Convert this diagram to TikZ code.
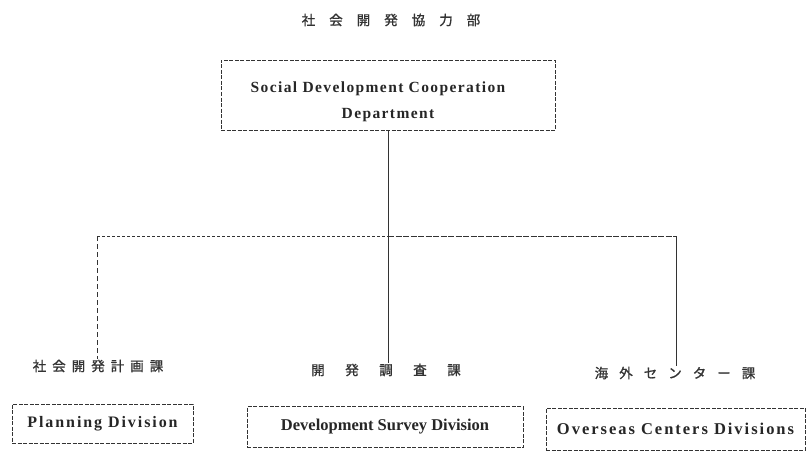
\documentclass[tikz,border=0pt]{standalone}
\usepackage{fontspec}
\setmainfont{Liberation Serif}
\newfontfamily\jpfont[FakeBold=1.2]{Noto Sans CJK JP}
\newfontfamily\enfontA[LetterSpace=9]{Liberation Serif}
\newfontfamily\enfontB{Liberation Serif}
\newfontfamily\enfontC[LetterSpace=12]{Liberation Serif}
\begin{document}
\begin{tikzpicture}[x=1pt,y=1pt,
  box/.style={draw=black!80, dash pattern=on 4pt off 1.5pt, line width=0.7pt, inner sep=0pt},
  entext/.style={text=black!85},
  jp/.style={font=\jpfont\fontsize{13.5}{15}\selectfont, text=black!80, inner sep=1pt},
  link/.style={draw=black!80, line width=0.7pt},
  hlink/.style={draw=black!80, line width=0.7pt, dash pattern=on 3pt off 2pt}]
\useasboundingbox (0,0) rectangle (808,-452);

\node[jp] (title) at (391,-20) {社\hspace{14pt}会\hspace{14pt}開\hspace{14pt}発\hspace{14pt}協\hspace{14pt}力\hspace{14pt}部};

\node[box, entext, font=\enfontA\bfseries\fontsize{15.5}{26}\selectfont, minimum width=334pt, minimum height=70pt, align=center] (dept) at (388,-95)
  {\rule{0pt}{24pt}Social Development Cooperation\hspace*{20pt}\\Department};

\node[jp] (lplan) at (98,-366) {社\hspace{6pt}会\hspace{6pt}開\hspace{6pt}発\hspace{6pt}計\hspace{6pt}画\hspace{6pt}課};
\node[jp] (lsurv) at (386,-370) {開\hspace{20.5pt}発\hspace{20.5pt}調\hspace{20.5pt}査\hspace{20.5pt}課};
\node[jp] (lover) at (675,-373) {海\hspace{11pt}外\hspace{11pt}セ\hspace{11pt}ン\hspace{11pt}タ\hspace{11pt}ー\hspace{11pt}課};

\node[box, entext, font=\enfontC\bfseries\fontsize{16}{18}\selectfont, minimum width=181pt, minimum height=39pt] (plan) at (102.5,-423.5) {Planning Division};
\node[box, entext, font=\enfontB\bfseries\fontsize{16.5}{18}\selectfont, minimum width=276pt, minimum height=41pt] (surv) at (385,-427) {Development Survey Division};
\node[box, entext, font=\enfontC\bfseries\fontsize{16.5}{18}\selectfont, minimum width=259pt, minimum height=42pt] (over) at (675.5,-429) {Overseas Centers Divisions};

\coordinate (jl) at (97,-236);
\coordinate (jc) at (388,-236);
\coordinate (jr) at (676,-236);

\draw[link] (dept.south) -- (jc);
\draw[link] (jc) -- (lsurv.north -| jc);
\draw[hlink] (jl) -- (jc);
\draw[link, dash pattern=on 6pt off 1.5pt] (jc) -- (jr);
\draw[link, dash pattern=on 5pt off 3pt] (jl) -- (lplan.north -| jl);
\draw[link] (jr) -- (lover.north -| jr);
\end{tikzpicture}
\end{document}
